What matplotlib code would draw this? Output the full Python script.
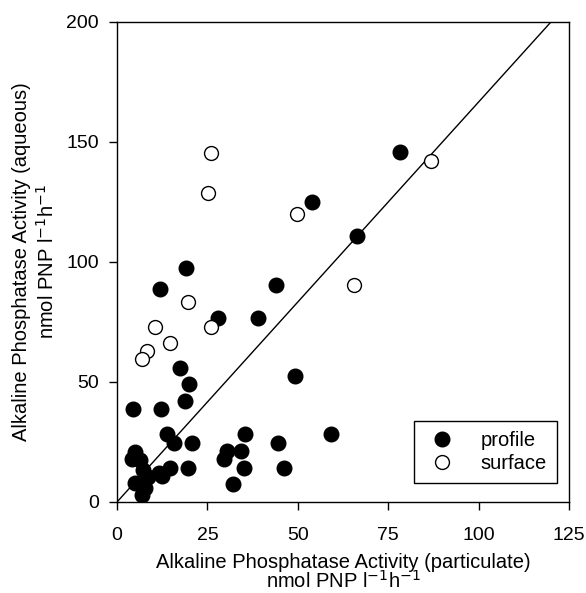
import numpy as np
import matplotlib
matplotlib.use("Agg")
import matplotlib.pyplot as plt

plt.rcParams['font.family'] = ['Liberation Sans', 'DejaVu Sans']

# profile samples (filled circles): particulate vs aqueous activity
profile_x = [78.3, 53.9, 66.4, 19.1, 44.1, 11.9, 27.9, 39.1, 17.5, 49.3,
             19.8, 18.7, 4.5, 12.2, 13.8, 35.3, 59.2, 15.8, 20.7, 44.6,
             30.5, 34.4, 29.7, 35.1, 46.2, 19.5, 14.7, 12.4, 32.0, 5.0,
             4.1, 6.4, 7.3, 8.7, 5.0, 7.8, 6.9, 11.5]
profile_y = [145.7, 124.9, 111.0, 97.4, 90.4, 88.6, 76.5, 76.5, 56.0, 52.5,
             49.0, 42.1, 38.6, 38.6, 28.2, 28.2, 28.2, 24.7, 24.7, 24.7,
             21.2, 21.2, 17.8, 14.3, 14.3, 14.3, 14.3, 10.8, 7.4, 21.0,
             18.0, 17.5, 13.3, 10.6, 8.0, 5.7, 3.0, 12.0]

# surface samples (open circles)
surface_x = [26.1, 25.1, 86.7, 49.9, 19.5, 10.6, 26.1, 65.5, 14.7, 8.2, 6.8]
surface_y = [145.6, 128.6, 142.2, 119.9, 83.5, 73.1, 73.1, 90.4, 66.4, 62.9, 59.5]

# reference line
line_x = [0, 120]
line_y = [0, 200]

fig = plt.figure(figsize=(5.86, 5.93), dpi=100)
ax = fig.add_axes([117 / 586, 91 / 593, 452 / 586, 480 / 593])

ax.plot(line_x, line_y, color='black', linewidth=1.0, zorder=1)
ax.plot(profile_x, profile_y, linestyle='', marker='o', markersize=10.5,
        color='black', label='profile', zorder=3)
ax.plot(surface_x, surface_y, linestyle='', marker='o', markersize=10,
        markerfacecolor='white', markeredgecolor='black', markeredgewidth=1.0,
        label='surface', zorder=3)

ax.set_xlim(0, 125)
ax.set_ylim(0, 200)
ax.set_xticks([0, 25, 50, 75, 100, 125])
ax.set_yticks([0, 50, 100, 150, 200])
ax.tick_params(direction='out', length=6, width=1, labelsize=14, colors='black')
ax.tick_params(axis='x', pad=12)
ax.tick_params(axis='y', pad=7)
for s in ax.spines.values():
    s.set_linewidth(1)
    s.set_color('black')

ax.set_xlabel("Alkaline Phosphatase Activity (particulate)\nnmol PNP l$^{-1}$h$^{-1}$",
              fontsize=14.5, linespacing=0.9)
ax.xaxis.set_label_coords(0.5, -0.106)
ax.set_ylabel("Alkaline Phosphatase Activity (aqueous)\nnmol PNP l$^{-1}$h$^{-1}$",
              fontsize=14.5, linespacing=1.3)
ax.yaxis.set_label_coords(-0.13, 0.5)

leg = ax.legend(loc='lower right', bbox_to_anchor=(0.973, 0.039), borderaxespad=0,
                fancybox=False, edgecolor='black', framealpha=1, fontsize=14.5,
                handletextpad=1.0, borderpad=0.5, labelspacing=0.2, handlelength=1.8)
leg.get_frame().set_linewidth(1)

fig.savefig("out.png", dpi=100)
